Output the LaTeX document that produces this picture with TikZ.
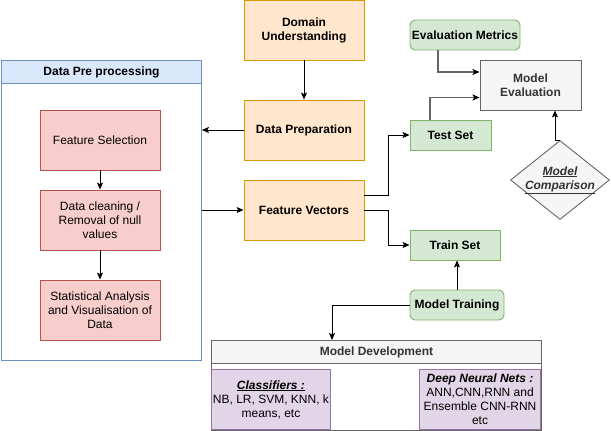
\documentclass[tikz,border=0pt]{standalone}
\usepackage{fontspec}
\setmainfont{Liberation Sans}
\usetikzlibrary{arrows.meta,shapes.geometric}
\definecolor{orF}{HTML}{FFE6CC}\definecolor{orD}{HTML}{D79B00}
\definecolor{blF}{HTML}{DAE8FC}\definecolor{blD}{HTML}{6C8EBF}
\definecolor{rdF}{HTML}{F8CECC}\definecolor{rdD}{HTML}{B85450}
\definecolor{grF}{HTML}{D5E8D4}\definecolor{grD}{HTML}{82B366}
\definecolor{gyF}{HTML}{F5F5F5}\definecolor{gyD}{HTML}{666666}\definecolor{gyT}{HTML}{333333}
\definecolor{puF}{HTML}{E1D5E7}\definecolor{puD}{HTML}{9673A6}
\begin{document}
\begin{tikzpicture}[x=1pt,y=-1pt,line width=0.9pt,
  font=\fontsize{12}{14}\selectfont,
  >={Stealth[length=7pt,width=6pt,inset=1.5pt]},
  base/.style={draw,align=center,inner sep=0pt,minimum width=#1},
  orbox/.style={base=120pt,minimum height=60pt,fill=orF,draw=orD,font=\fontsize{12}{14}\selectfont\bfseries},
  rdbox/.style={base=120pt,minimum height=60pt,fill=rdF,draw=rdD},
  grbox/.style={base=#1,minimum height=30pt,fill=grF,draw=grD,font=\fontsize{12}{14}\selectfont\bfseries},
  gybox/.style={draw=gyD,fill=gyF,text=gyT,inner sep=0pt,align=center,font=\fontsize{12}{14}\selectfont\bfseries},
  pubox/.style={base=#1,minimum height=60pt,fill=puF,draw=puD},
  gline/.style={draw=gyD,line width=1.3pt,-{Stealth[length=7pt,width=6pt,inset=1.5pt,black]}}]
\useasboundingbox (0,0) rectangle (611,431);
% centre column
\node[orbox] (du) at (304,30) {Domain\\Understanding};
\node[orbox] (dp) at (304,130) {Data Preparation};
\node[orbox] (fv) at (304,210) {Feature Vectors};
% data pre processing container
\node[draw=blD,minimum width=200pt,minimum height=300pt,anchor=north west,inner sep=0pt] (dpp) at (1,60) {};
\node[draw=blD,fill=blF,minimum width=200pt,minimum height=23pt,anchor=north west,inner sep=0pt,font=\fontsize{12}{14}\selectfont\bfseries] (dpph) at (1,60) {Data Pre processing};
\node[rdbox] (fs) at (100,140) {Feature Selection};
\node[rdbox] (dc) at (100,220) {Data cleaning /\\Removal of null\\values};
\node[rdbox] (sa) at (100,310) {Statistical Analysis\\and Visualisation of\\Data};
% right side
\node[grbox=81pt] (ts) at (450.5,135) {Test Set};
\node[grbox=90pt] (trs) at (455,245) {Train Set};
\node[grbox=110pt,rounded corners=5pt] (em) at (465,35) {Evaluation Metrics};
\node[grbox=94pt,rounded corners=5pt] (mt) at (457,305) {Model Training};
\node[gybox,minimum width=101pt,minimum height=50pt] (me) at (530.5,85) {Model\\Evaluation};
\node[gybox,diamond,minimum width=99pt,minimum height=79pt] (mc) at (560,180) {};
\node[text=gyT,align=center,font=\fontsize{12}{14}\selectfont\bfseries\itshape] (mct) at (mc) {\underline{Model}\\\underline{Comparison}};
% model development
\node[gybox,minimum width=330pt,minimum height=90pt,anchor=north west,fill=white] (md) at (211,340) {};
\node[gybox,minimum width=330pt,minimum height=23pt,anchor=north west] (mdh) at (211,340) {Model Development};
\node[pubox=119pt,anchor=south west] (cl) at (211,430) {\textbf{\textit{\underline{Classifiers :}}}\\NB, LR, SVM, KNN, k\\means, etc};
\node[pubox=121pt,anchor=south east] (dnn) at (541,430) {\textbf{\textit{Deep Neural Nets :}}\\ANN,CNN,RNN and\\Ensemble CNN-RNN\\etc};
% connectors
\draw[->] (du) -- (dp);
\draw[->] (dp.west) -- (dp.west -| dpp.east);
\draw[->] (dpp.east |- fv.west) -- (fv.west);
\draw[->] (fs) -- (dc);
\draw[->] (dc) -- (sa);
\draw[->] ([yshift=15pt]fv.east) -- ++(24,0) |- (ts.west);
\draw[->] (fv.east) -- ++(24,0) |- (trs.west);
\draw[->] (mt.north) -- (mt.north |- trs.south);
\draw[->] (mt.west) -| (332,0 |- md.north);
\draw[gline] ([xshift=-27pt]em.south) |- ([yshift=13pt]me.west);
\draw[gline] ([xshift=-20.5pt]ts.north) |- ([yshift=-12.5pt]me.west);
\draw[->] (mc.north) -- ++(-5,0) coordinate (k) -- (k |- me.south);
\end{tikzpicture}
\end{document}
